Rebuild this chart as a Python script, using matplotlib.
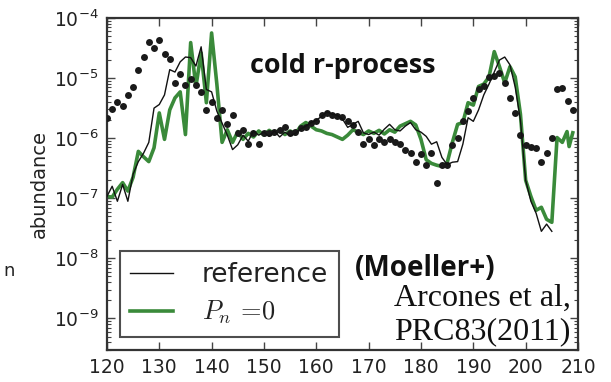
"""
Cold r-process abundance pattern: solar r-process abundances (dots) compared
with a reference nucleosynthesis calculation and one with P_n = 0.
"""

import matplotlib.pyplot as plt
import numpy as np
from matplotlib.font_manager import FontProperties

# Solar r-process abundances, log10 Y vs mass number A
solar_A = list(range(120, 210))
solar_logY = [
    -5.66, -5.51, -5.39, -5.46, -5.28, -5.15, -4.86, -4.65, -4.40, -4.50,
    -4.36, -4.60, -4.68, -5.08, -4.93, -5.11, -5.01, -5.11, -5.24, -5.53,
    -5.39, -5.66, -5.53, -5.76, -5.61, -5.91, -5.86, -6.09, -5.91, -6.09,
    -5.91, -5.91, -5.89, -5.86, -5.81, -5.91, -5.89, -5.83, -5.81, -5.74,
    -5.71, -5.62, -5.58, -5.61, -5.63, -5.64, -5.71, -5.78, -5.89, -6.09,
    -6.01, -6.11, -6.02, -6.07, -6.02, -6.07, -6.09, -6.19, -6.24, -6.40,
    -6.27, -6.45, -6.24, -6.74, -6.44, -6.44, -6.12, -5.99, -5.71, -5.54,
    -5.34, -5.19, -5.13, -4.98, -4.96, -4.91, -5.08, -5.33, -5.58, -5.94,
    -6.11, -6.14, -6.16, -6.39, -6.24, -5.99, -5.19, -5.16, -5.38, -5.53,
]

# Reference calculation (Moeller+ masses)
ref_A = list(range(120, 206))
ref_logY = [
    -6.97, -6.80, -7.05, -6.77, -7.05, -6.60, -6.39, -6.25, -6.07, -5.50,
    -5.44, -5.28, -4.86, -4.90, -4.73, -4.65, -4.66, -4.80, -4.48, -5.19,
    -5.23, -5.55, -5.75, -5.95, -6.19, -6.11, -5.95, -6.05, -5.88, -5.95,
    -5.90, -5.97, -5.88, -5.98, -5.90, -5.96, -5.92, -5.85, -5.80, -5.74,
    -5.70, -5.64, -5.56, -5.60, -5.62, -5.68, -5.82, -5.77, -5.72, -5.91,
    -5.94, -5.90, -5.95, -5.85, -5.77, -5.86, -5.88, -5.80, -5.74, -5.86,
    -5.90, -5.97, -6.10, -6.06, -6.32, -6.44, -6.40, -6.39, -6.10, -5.66,
    -5.72, -5.53, -5.28, -5.10, -4.90, -4.70, -4.65, -4.78, -5.15, -5.70,
    -6.70, -7.05, -7.25, -7.55, -7.43, -7.55,
]

# Same run without beta-delayed neutron emission
pn0_A = [
    120, 121, 122, 123, 124, 125, 126, 127, 128, 129,
    130, 131, 132, 133, 134, 135, 136, 137, 138, 139,
    140, 141, 142, 143, 144, 145, 146, 147, 148, 149,
    150, 151, 152, 153, 154, 155, 156, 157, 158, 159,
    160, 161, 162, 163, 164, 165, 166, 167, 168, 169,
    170, 171, 172, 173, 174, 175, 176, 177, 178, 179,
    180, 181, 182, 183, 184, 185, 186, 187, 188, 189,
    190, 191, 192, 193, 194, 195, 196, 197, 198, 199,
    200, 201, 202, 203, 204, 205, 206, 207, 207.9, 208.3, 209,
]
pn0_logY = [
    -6.97, -6.98, -6.85, -6.74, -6.88, -6.65, -6.22, -6.31, -6.39, -6.16,
    -5.58, -6.02, -5.53, -5.33, -5.23, -5.94, -4.41, -5.14, -4.58, -5.41,
    -4.25, -5.10, -6.07, -5.86, -6.07, -5.89, -6.02, -5.92, -5.98, -5.88,
    -5.95, -5.87, -5.93, -5.86, -5.94, -5.88, -5.93, -5.80, -5.74, -5.80,
    -5.86, -5.88, -5.92, -5.94, -5.98, -6.02, -5.95, -5.86, -5.90, -5.94,
    -5.88, -5.92, -5.87, -5.93, -5.86, -5.90, -5.80, -5.76, -5.72, -5.78,
    -6.02, -6.36, -6.42, -6.45, -6.47, -6.41, -6.07, -5.77, -5.74, -5.41,
    -5.45, -5.14, -5.10, -4.98, -4.56, -4.81, -5.08, -4.81, -4.98, -5.60,
    -6.70, -6.97, -7.20, -7.15, -7.35, -7.40, -5.99, -6.07, -5.89, -6.14, -5.91,
]

x_ticks = [120, 130, 140, 150, 160, 170, 180, 190, 200, 210]

GREEN = "#3a8a3a"
TEXT = "#222222"

plt.rcParams["font.family"] = ["DejaVu Sans"]
plt.rcParams["axes.linewidth"] = 1.6

fig = plt.figure(figsize=(6.11, 3.82), dpi=100)
ax = fig.add_axes([0.175, 0.084, 0.771, 0.869])

ax.plot(solar_A, 10 ** np.array(solar_logY), "o", color="#1a1a1a",
        ms=5, mec="none", zorder=3)
ax.plot(ref_A, 10 ** np.array(ref_logY), color="#111111", lw=1.0,
        label="reference", zorder=4)
ax.plot(pn0_A, 10 ** np.array(pn0_logY), color=GREEN, lw=2.6,
        label=r"$P_n\,=\!0$", zorder=2)

ax.set_yscale("log")
ax.set_xlim(120, 210)
ax.set_ylim(3e-10, 1e-4)
ax.set_xticks(x_ticks)
ax.set_yticks([1e-9, 1e-8, 1e-7, 1e-6, 1e-5, 1e-4])
ax.tick_params(which="both", direction="in", top=True, right=True,
               labelsize=13.5, labelcolor=TEXT, color="#444444")
ax.tick_params(which="major", length=6, width=1.0, pad=6)
ax.tick_params(which="minor", length=3, width=0.8)
for s in ax.spines.values():
    s.set_color("#333333")

ax.set_ylabel("abundance", fontsize=14, color=TEXT, labelpad=4)

# legend text in sans, math label in Computer Modern
leg_font = FontProperties(family="DejaVu Sans", size=19, math_fontfamily="cm")
leg = ax.legend(loc="lower left", bbox_to_anchor=(0.0276, 0.039),
                prop=leg_font, frameon=True, fancybox=False,
                handlelength=1.6, handletextpad=1.1, borderpad=0.4,
                labelspacing=0.42, borderaxespad=0)
leg.get_frame().set_edgecolor("#222222")
leg.get_frame().set_linewidth(1.5)
for t in leg.get_texts():
    t.set_color(TEXT)

ax.text(0.50, 0.855, "cold r-process", transform=ax.transAxes,
        fontsize=19.4, fontweight="bold", family="Open Sans",
        ha="center", va="center", color="#111111")
ax.text(0.526, 0.245, "(Moeller+)", transform=ax.transAxes,
        fontsize=20, fontweight="bold", family="Open Sans",
        ha="left", va="center", color="#111111")
ax.text(0.985, 0.01, "Arcones et al,\nPRC83(2011)", transform=ax.transAxes,
        fontsize=23, family="Liberation Serif", ha="right", va="bottom",
        linespacing=1.2, color="#111111")

fig.text(0.005, 0.29, "n", fontsize=13, color=TEXT, ha="left", va="center")

fig.savefig("out.png", dpi=100)
